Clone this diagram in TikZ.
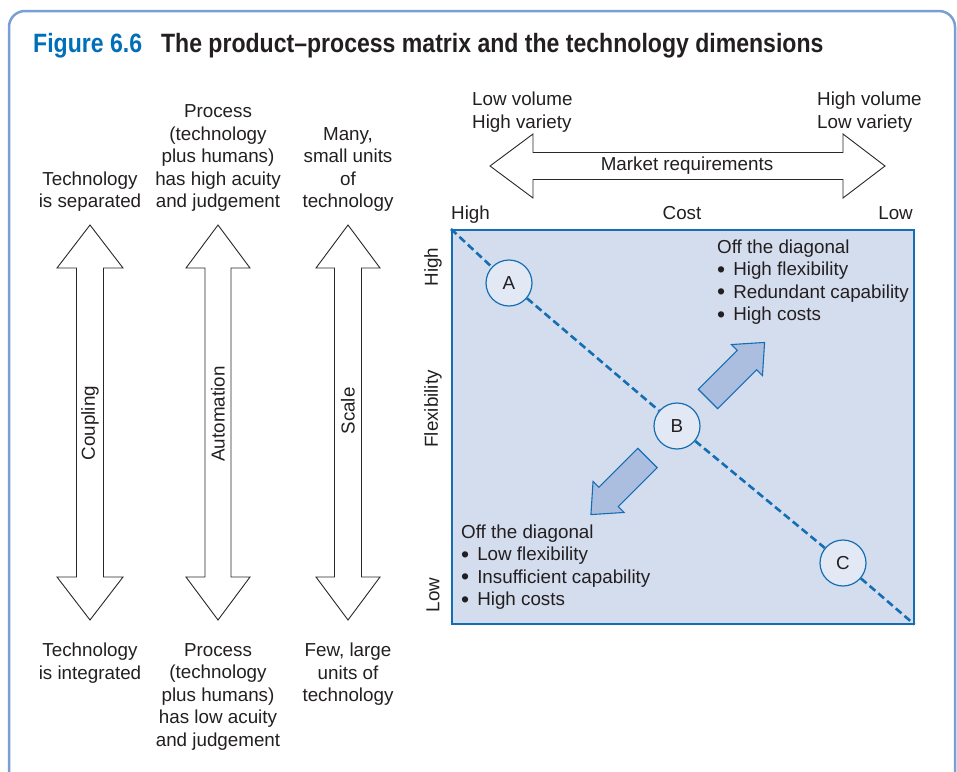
\documentclass[tikz,border=0pt]{standalone}
\usepackage{fontspec}
\setmainfont{Liberation Sans}
\newfontfamily\titlefont[FakeStretch=0.87]{Liberation Sans}
\usepackage{xcolor}
\usepackage{tikz}
\usetikzlibrary{positioning, arrows.meta}

\definecolor{textgray}{RGB}{35,31,32}
\definecolor{figblue}{RGB}{0,110,184}
\definecolor{framecol}{RGB}{120,160,214}
\definecolor{blueline}{RGB}{20,110,180}
\definecolor{matfill}{RGB}{212,221,238}
\definecolor{ptfill}{RGB}{226,232,244}
\definecolor{arrowfill}{RGB}{172,190,224}
\definecolor{outline}{RGB}{40,40,40}

\newcommand{\blt}{\raisebox{-1.6pt}{\fontsize{23}{22.5}\selectfont•}\hspace{8pt}}

\begin{document}
\begin{tikzpicture}[
            x=1pt, y=-1pt,
            node distance=15pt and 15pt,
            txt/.style={font=\fontsize{18.8}{22.5}\selectfont, text=textgray, inner sep=0pt, align=center},
            bigarrow/.style={draw=outline, fill=white, line width=0.9pt, line join=miter},
            blockarrow/.style={draw=blueline, fill=arrowfill, line width=1.1pt, line join=miter},
            matrixbox/.style={rectangle, draw=blueline, fill=matfill, line width=1.5pt, inner sep=0pt},
            pt/.style={circle, draw=blueline, fill=ptfill, minimum size=46pt, line width=1.2pt, inner sep=0pt, font=\fontsize{18.8}{22.5}\selectfont, text=textgray},
            diag/.style={draw=blueline, line width=2.6pt, dash pattern=on 7.5pt off 4pt}
        ]
            \useasboundingbox (0,0) rectangle (957,771);
            \clip (0,0) rectangle (957,771);
            \draw[framecol, line width=2.5pt, rounded corners=16pt] (9,11) rectangle (955,800);

            % title
            \node[anchor=base west, inner sep=0pt, text=textgray, font=\titlefont\bfseries\fontsize{26.5}{30}\selectfont] (title) at (33,52)
                {\textcolor{figblue}{Figure 6.6}\hspace{19pt}The product–process matrix and the technology dimensions};

            % technology dimensions
            \draw[bigarrow, xshift=90pt] (0,225) -- (33,268) -- (13.5,268) -- (13.5,577) -- (33,577) -- (0,620) -- (-33,577) -- (-13.5,577) -- (-13.5,268) -- (-33,268) -- cycle;
            \draw[bigarrow, xshift=218pt] (0,225) -- (32,268) -- (13,268) -- (13,577) -- (32,577) -- (0,620) -- (-32,577) -- (-13,577) -- (-13,268) -- (-32,268) -- cycle;
            \draw[bigarrow, xshift=348pt] (0,225) -- (32,268) -- (13.5,268) -- (13.5,577) -- (32,577) -- (0,620) -- (-32,577) -- (-13.5,577) -- (-13.5,268) -- (-32,268) -- cycle;
            \coordinate (couptop) at (90,225);
            \coordinate (coupbot) at (90,620);
            \coordinate (autotop) at (218,225);
            \coordinate (autobot) at (218,620);
            \coordinate (scaletop) at (348,225);
            \coordinate (scalebot) at (348,620);

            \node[txt, rotate=90] (coupling) at (90,423) {Coupling};
            \node[txt, rotate=90] (automation) at (218,414) {Automation};
            \node[txt, rotate=90] (scale) at (348,411) {Scale};

            \node[txt, above=13pt of couptop] (separated) {Technology\\is separated};
            \node[txt, above=13pt of autotop] (acuityhi) {Process\\(technology\\plus humans)\\has high acuity\\and judgement};
            \node[txt, above=13pt of scaletop] (manyunits) {Many,\\small units\\of\\technology};
            \node[txt, below=23pt of coupbot] (integrated) {Technology\\is integrated};
            \node[txt, below=23pt of autobot] (acuitylo) {Process\\(technology\\plus humans)\\has low acuity\\and judgement};
            \node[txt, below=23pt of scalebot] (fewunits) {Few, large\\units of\\technology};

            % market requirements
            \draw[bigarrow] (490,166) -- (533,134) -- (533,152.5) -- (843,152.5) -- (843,134) -- (885,166) -- (843,198) -- (843,179.5) -- (533,179.5) -- (533,198) -- cycle;
            \node[txt] (market) at (687,166) {Market requirements};
            \node[txt, align=left, anchor=west] (lowvol) at (472,112) {Low volume\\High variety};
            \node[txt, align=left, anchor=west] (highvol) at (817,112) {High volume\\Low variety};

            % product-process matrix
            \node[matrixbox, minimum width=462pt, minimum height=394pt, anchor=north west] (mat) at (451,229) {};
            \node[txt, anchor=base west] (costhi) at (451,219) {High};
            \node[txt, anchor=base] (cost) at (682,219) {Cost};
            \node[txt, anchor=base east] (costlo) at (913,219) {Low};
            \node[txt, rotate=90] (flexhi) at (433,267) {High};
            \node[txt, rotate=90] (flex) at (433,409) {Flexibility};
            \node[txt, rotate=90] (flexlo) at (433,595) {Low};

            \node[pt] (a) at (509,283) {A};
            \node[pt] (b) at (677,426) {B};
            \node[pt] (c) at (843,563) {C};
            \draw[diag] (mat.north west) -- (a) -- (b) -- (c) -- (mat.south east);

            \draw[blockarrow, shift={(708,399)}, rotate=45] (0,-13.7) -- (55,-13.7) -- (55,-22) -- (80,0) -- (55,22) -- (55,13.7) -- (0,13.7) -- cycle;
            \draw[blockarrow, shift={(647.5,458)}, rotate=225] (0,-13.7) -- (55,-13.7) -- (55,-22) -- (80,0) -- (55,22) -- (55,13.7) -- (0,13.7) -- cycle;

            \node[txt, align=left, anchor=west] (offhi) at (717,282) {Off the diagonal\\\blt High flexibility\\\blt Redundant capability\\\blt High costs};
            \node[txt, align=left, anchor=west] (offlo) at (461,567) {Off the diagonal\\\blt Low flexibility\\\blt Insufficient capability\\\blt High costs};
        \end{tikzpicture}
\end{document}
